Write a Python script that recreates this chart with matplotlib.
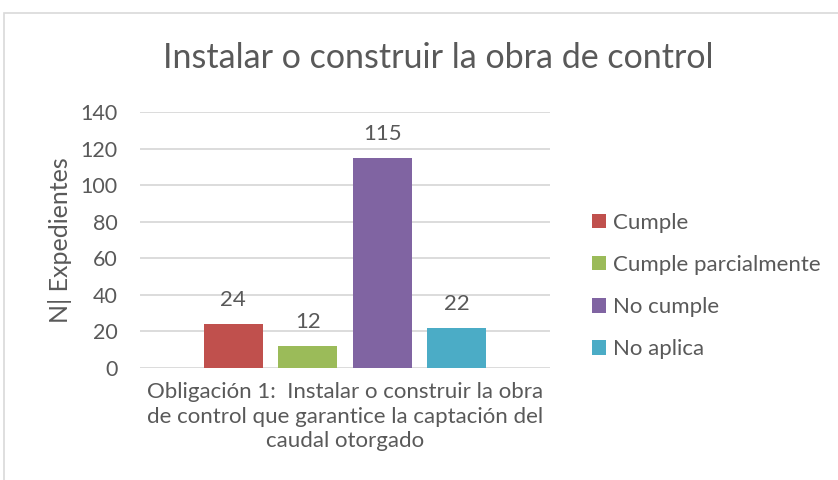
import matplotlib as mpl
mpl.use('Agg')
import matplotlib.pyplot as plt
from matplotlib.patches import Rectangle

# data
series = ['Cumple', 'Cumple parcialmente', 'No cumple', 'No aplica']
values = [24, 12, 115, 22]
colors = ['#C0504D', '#9BBB59', '#8064A2', '#4BACC6']
category = 'Obligación 1:  Instalar o construir la obra\nde control que garantice la captación del\ncaudal otorgado'
yticks = [0, 20, 40, 60, 80, 100, 120, 140]

txt = '#595959'
plt.rcParams['font.family'] = ['Lato', 'DejaVu Sans']

W, H = 838, 480
fig = plt.figure(figsize=(W / 100.0, H / 100.0), dpi=100)
ax = fig.add_axes([140.0 / W, (H - 368.0) / H, 410.0 / W, 256.0 / H])

# outer chart border
fig.patches.append(Rectangle((4.0 / W, -0.1), 1.2, (H - 13.0) / H + 0.1,
                             transform=fig.transFigure, fill=False,
                             edgecolor='#D9D9D9', linewidth=1.2))

for i, (name, v, c) in enumerate(zip(series, values, colors)):
    ax.bar(i, v, width=0.79, color=c, label=name, zorder=3)
    ax.annotate('%d' % v, (i, v), xytext=(0, 10), textcoords='offset points',
                ha='center', va='bottom', fontsize=16, color=txt)

ax.set_xlim(1.5 - 2.746, 1.5 + 2.746)
ax.set_ylim(0, 140)
ax.set_yticks(yticks)
ax.set_xticks([1.5])
ax.set_xticklabels([category], fontsize=16, color=txt, linespacing=1.3)
ax.tick_params(axis='y', length=0, labelsize=15.5, labelcolor=txt, pad=16)
ax.tick_params(axis='x', length=0, pad=10)
ax.yaxis.grid(True, color='#D9D9D9', linewidth=1.3, zorder=0)
for s in ['top', 'right', 'left', 'bottom']:
    ax.spines[s].set_visible(False)
ax.set_ylabel('N| Expedientes', fontsize=18, color=txt, labelpad=6)

fig.text(438.0 / W, 1 - 58.0 / H, 'Instalar o construir la obra de control',
         ha='center', va='center', fontsize=24.5, color=txt)

leg = ax.legend(loc='center left', bbox_to_anchor=(592.0 / W, (H - 286.0) / H),
                bbox_transform=fig.transFigure, frameon=False, fontsize=16,
                handlelength=0.63, handleheight=0.63, handletextpad=0.32,
                labelspacing=1.0, borderpad=0, borderaxespad=0)
for t in leg.get_texts():
    t.set_color(txt)

plt.savefig('out.png', dpi=100)
